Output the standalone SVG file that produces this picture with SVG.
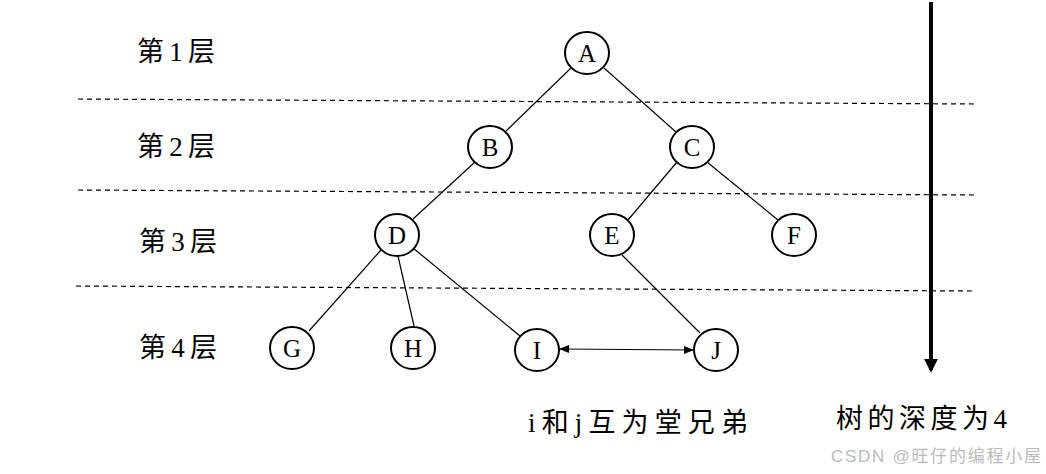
<svg xmlns="http://www.w3.org/2000/svg" width="1046" height="474" viewBox="0 0 1046 474">
<defs>
<style>
.n ellipse{fill:#fff;stroke:#000;stroke-width:2}
.n text{font-family:"Liberation Serif","Noto Sans CJK SC",serif;font-size:25px;text-anchor:middle;fill:#000}
.e line{stroke:#000;stroke-width:1.2}
.e line.depth{stroke-width:4}
.d{stroke:#000;stroke-width:1.2;stroke-dasharray:5,4}
.lbl{font-family:"Liberation Serif","Noto Sans CJK SC",serif;font-size:27px;fill:#000}
</style>
<marker id="ah" viewBox="0 0 10 10" refX="10" refY="5" markerWidth="10" markerHeight="10" markerUnits="userSpaceOnUse" orient="auto-start-reverse"><path d="M0,1 L10,5 L0,9 z" fill="#000"/></marker>
<marker id="big" viewBox="0 0 10 10" refX="8" refY="5" markerWidth="14" markerHeight="14" markerUnits="userSpaceOnUse" orient="auto"><path d="M0,0 L10,5 L0,10 z" fill="#000"/></marker>
</defs>
<rect width="1046" height="474" fill="#fff"/>
<g id="levels">
<line class="d" x1="78" y1="99" x2="978" y2="104"/>
<line class="d" x1="78" y1="190" x2="978" y2="195"/>
<line class="d" x1="76" y1="286" x2="976" y2="291"/>
<text class="lbl" x="137" y="61" textLength="78">第1层</text>
<text class="lbl" x="137" y="156" textLength="78">第2层</text>
<text class="lbl" x="139" y="251" textLength="78">第3层</text>
<text class="lbl" x="139" y="357" textLength="78">第4层</text>
</g>
<g id="connectors" class="e">
<line x1="571" y1="68" x2="506" y2="131"/>
<line x1="604" y1="68" x2="676" y2="132"/>
<line x1="475" y1="162" x2="413" y2="219"/>
<line x1="677" y1="162" x2="628" y2="220"/>
<line x1="707" y1="162" x2="778" y2="220"/>
<line x1="381" y1="250" x2="309" y2="331"/>
<line x1="398" y1="256" x2="414" y2="326"/>
<line x1="413" y1="248" x2="520" y2="336"/>
<line x1="622" y1="255" x2="700" y2="333"/>
<line x1="559" y1="349" x2="694" y2="350" marker-start="url(#ah)" marker-end="url(#ah)"/>
<line class="depth" x1="931" y1="2" x2="931" y2="370" marker-end="url(#big)"/>
</g>
<g id="A" class="n"><ellipse cx="587" cy="53" rx="22" ry="21"/><text x="587" y="62">A</text></g>
<g id="B" class="n"><ellipse cx="490" cy="147" rx="22" ry="21"/><text x="490" y="156">B</text></g>
<g id="C" class="n"><ellipse cx="692" cy="147" rx="22" ry="21"/><text x="692" y="156">C</text></g>
<g id="D" class="n"><ellipse cx="397" cy="235" rx="22" ry="21"/><text x="397" y="244">D</text></g>
<g id="E" class="n"><ellipse cx="612" cy="235" rx="22" ry="21"/><text x="612" y="244">E</text></g>
<g id="F" class="n"><ellipse cx="794" cy="235" rx="22" ry="21"/><text x="794" y="244">F</text></g>
<g id="G" class="n"><ellipse cx="292" cy="348" rx="22" ry="21"/><text x="292" y="357">G</text></g>
<g id="H" class="n"><ellipse cx="413" cy="348" rx="22" ry="21"/><text x="413" y="357">H</text></g>
<g id="I" class="n"><ellipse cx="537" cy="350" rx="22" ry="21"/><text x="537" y="359">I</text></g>
<g id="J" class="n"><ellipse cx="716" cy="350" rx="22" ry="21"/><text x="716" y="359">J</text></g>
<g id="notes">
<text class="lbl" x="528" y="432" font-size="28" textLength="220">i和j互为堂兄弟</text>
<text class="lbl" x="836" y="428" textLength="171">树的深度为4</text>
<text x="831" y="462" font-family="'Liberation Sans','Noto Sans CJK SC',sans-serif" font-size="17" fill="#bbb" textLength="210">CSDN @旺仔的编程小屋</text>
</g>
</svg>
